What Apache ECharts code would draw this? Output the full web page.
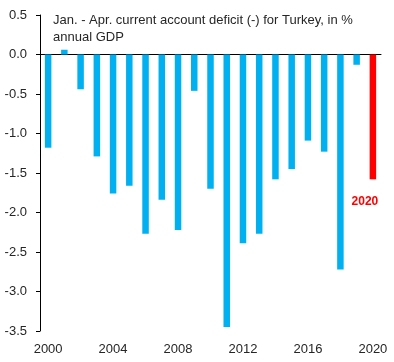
<!DOCTYPE html>
<html>
<head>
<meta charset="utf-8">
<script src="https://cdn.jsdelivr.net/npm/echarts@6/dist/echarts.min.js"></script>
<style>
html,body{margin:0;padding:0;background:#fff;}
#chart{width:394px;height:362px;}
</style>
</head>
<body>
<div id="chart"></div>
<script>
const years = ['2000','2001','2002','2003','2004','2005','2006','2007','2008','2009','2010','2011','2012','2013','2014','2015','2016','2017','2018','2019','2020'];
const deficit = [-1.18, 0.06, -0.44, -1.29, -1.76, -1.66, -2.27, -1.84, -2.22, -0.46, -1.70, -3.45, -2.39, -2.27, -1.58, -1.45, -1.09, -1.23, -2.72, -0.13, -1.58];
const titleText = 'Jan. - Apr. current account deficit (-) for Turkey, in %\nannual GDP';
const highlightYear = '2020';
const yMin = -3.5, yMax = 0.5, yStep = 0.5;

const font = 'Liberation Sans';
const chart = echarts.init(document.getElementById('chart'), null, {renderer:'canvas'});
const barData = deficit.map((v, i) => {
  if (years[i] === highlightYear) {
    return {
      value: v,
      itemStyle: {color: '#FF0000'},
      label: {show: true, position: 'bottom', distance: 14, offset: [-8, 2], formatter: highlightYear,
        color: '#FF0000', fontWeight: 'bold', fontSize: 12, fontFamily: font}
    };
  }
  return v;
});
chart.setOption({
  animation: false,
  backgroundColor: '#ffffff',
  title: {
    text: titleText,
    left: 48, top: 7,
    textStyle: {fontSize: 13, fontWeight: 'normal', color: '#262626', fontFamily: font, lineHeight: 17}
  },
  grid: {left: 40, right: 13, top: 15, bottom: 31, containLabel: false},
  xAxis: [
    {
      type: 'category', data: years,
      axisLine: {onZero: true, lineStyle: {color: '#000', width: 1}},
      axisTick: {show: false},
      axisLabel: {show: false}
    },
    {
      type: 'category', data: years, position: 'bottom',
      axisLine: {show: false, onZero: false},
      axisTick: {show: false},
      axisLabel: {interval: 3, margin: 12, fontSize: 13, color: '#262626', fontFamily: font}
    }
  ],
  yAxis: {
    type: 'value', min: yMin, max: yMax, interval: yStep,
    axisLine: {show: true, lineStyle: {color: '#000', width: 1}},
    axisTick: {show: true, length: 4, lineStyle: {color: '#000'}},
    splitLine: {show: false},
    axisLabel: {margin: 13, fontSize: 13, color: '#262626', fontFamily: font,
      formatter: v => v.toFixed(1)}
  },
  series: [{
    type: 'bar', xAxisIndex: 0, data: barData, barWidth: 6.5,
    itemStyle: {color: '#00B0F0'}
  }]
});
</script>
</body>
</html>
